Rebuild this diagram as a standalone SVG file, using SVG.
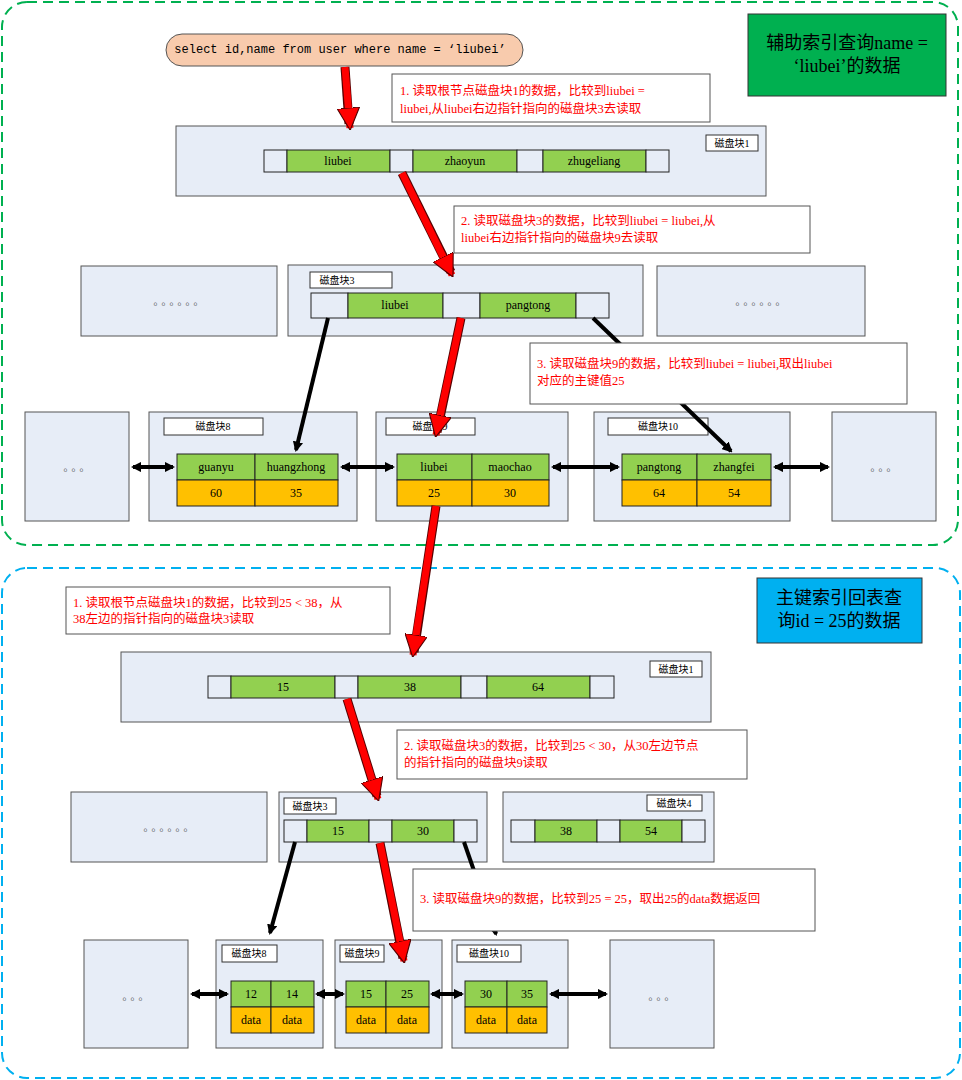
<svg xmlns="http://www.w3.org/2000/svg" width="962" height="1080" viewBox="0 0 962 1080">
<style>
text{font-family:"Liberation Serif","Noto Sans CJK SC",serif;font-size:12px;text-anchor:middle;dominant-baseline:central}
.blk{fill:#e7edf7;stroke:#555;stroke-width:1}
.lbl{fill:#fff;stroke:#333;stroke-width:1}
.e{fill:#e7edf7;stroke:#222;stroke-width:1}
.g{fill:#92d050;stroke:#222;stroke-width:1}
.y{fill:#ffc000;stroke:#222;stroke-width:1}
.note{fill:#fff;stroke:#555;stroke-width:1}
.rt{fill:#ff0000;text-anchor:start;font-size:12.5px}
.sm{font-size:10px}
.dots{font-size:10px;fill:#555;letter-spacing:3px}
.ba{stroke:#000;stroke-width:4;fill:none}
.dbl{stroke:#000;stroke-width:4;marker-start:url(#bh);marker-end:url(#bh)}
.ro{stroke:#500;stroke-width:9;stroke-linecap:butt}
.ri{stroke:#f00;stroke-width:7;stroke-linecap:butt}
</style>
<defs>
<marker id="bh" viewBox="0 0 10 10" refX="8" refY="5" markerWidth="2.6" markerHeight="2.6" orient="auto-start-reverse"><path d="M0,0L10,5L0,10z" fill="#000"/></marker>
<marker id="rh" viewBox="0 0 10 10" refX="9" refY="5" markerWidth="3.2" markerHeight="3.2" orient="auto" markerUnits="strokeWidth"><path d="M0,0L10,5L0,10z" fill="#f00" stroke="#500" stroke-width="0.5"/></marker>
</defs>
<rect width="962" height="1080" fill="#fff"/>
<g id="frames">
<rect x="2" y="2" width="956" height="543" rx="25" fill="none" stroke="#00b050" stroke-width="2" stroke-dasharray="10,6"/>
<rect x="2" y="568" width="958" height="510" rx="25" fill="none" stroke="#00b0f0" stroke-width="2" stroke-dasharray="10,6"/>
</g>
<g id="title1"><rect x="748" y="14" width="198" height="82" fill="#00b050" stroke="#333"/>
<text x="847" y="43" style="font-size:18px">辅助索引查询name =</text><text x="847" y="66" style="font-size:18px">‘liubei’的数据</text></g>
<g id="title2"><rect x="757" y="578" width="165" height="65" fill="#00b0f0" stroke="#333"/>
<text x="839" y="598" style="font-size:18px">主键索引回表查</text><text x="839" y="621" style="font-size:18px">询id = 25的数据</text></g>
<g id="sql"><rect x="166" y="34" width="357" height="32" rx="16" fill="#f8cbad" stroke="#555"/>
<text x="340" y="50" style="font-family:'Liberation Mono','Noto Sans CJK SC',monospace;font-size:12px">select id,name from user where name = ‘liubei’</text></g>

<g id="t-disk1"><rect class="blk" x="176" y="126" width="590" height="70"/><rect class="lbl" x="706" y="135" width="52" height="16"/><text class="sm" x="732" y="143">磁盘块1</text>
<rect class="e" x="264" y="150" width="23" height="22"/><rect class="g" x="287" y="150" width="103" height="22"/><rect class="e" x="390" y="150" width="23" height="22"/><rect class="g" x="413" y="150" width="104" height="22"/><rect class="e" x="517" y="150" width="26" height="22"/><rect class="g" x="543" y="150" width="103" height="22"/><rect class="e" x="646" y="150" width="23" height="22"/>
<text x="338" y="161">liubei</text><text x="465" y="161">zhaoyun</text><text x="594" y="161">zhugeliang</text></g>
<g id="t-l2left"><rect class="blk" x="81" y="266" width="196" height="70"/><text class="dots" x="180" y="301">。。。。。。</text></g>
<g id="t-disk3"><rect class="blk" x="288" y="265" width="355" height="71"/><rect class="lbl" x="310" y="272" width="82" height="16"/><text class="sm" x="337" y="280">磁盘块3</text>
<rect class="e" x="311" y="293" width="37" height="25"/><rect class="g" x="348" y="293" width="95" height="25"/><rect class="e" x="443" y="293" width="37" height="25"/><rect class="g" x="480" y="293" width="96" height="25"/><rect class="e" x="576" y="293" width="33" height="25"/>
<text x="395" y="305">liubei</text><text x="528" y="305">pangtong</text></g>
<g id="t-l2right"><rect class="blk" x="657" y="266" width="208" height="70"/><text class="dots" x="762" y="301">。。。。。。</text></g>
<g id="t-l3left"><rect class="blk" x="25" y="412" width="104" height="109"/><text class="dots" x="78" y="467">。。。</text></g>
<g id="t-disk8"><rect class="blk" x="149" y="412" width="208" height="109"/><rect class="lbl" x="164" y="418" width="99" height="17"/><text class="sm" x="213" y="426">磁盘块8</text>
<rect class="g" x="177" y="454" width="78" height="26"/><rect class="g" x="255" y="454" width="83" height="26"/><rect class="y" x="177" y="480" width="78" height="26"/><rect class="y" x="255" y="480" width="83" height="26"/>
<text x="216" y="467">guanyu</text><text x="296" y="467">huangzhong</text><text x="216" y="493">60</text><text x="296" y="493">35</text></g>
<g id="t-disk9"><rect class="blk" x="376" y="412" width="192" height="109"/><rect class="lbl" x="386" y="418" width="89" height="17"/><text class="sm" x="430" y="426">磁盘块9</text>
<rect class="g" x="397" y="454" width="75" height="26"/><rect class="g" x="472" y="454" width="77" height="26"/><rect class="y" x="397" y="480" width="75" height="26"/><rect class="y" x="472" y="480" width="77" height="26"/>
<text x="434" y="467">liubei</text><text x="510" y="467">maochao</text><text x="434" y="493">25</text><text x="510" y="493">30</text></g>
<g id="t-disk10"><rect class="blk" x="594" y="412" width="196" height="109"/><rect class="lbl" x="608" y="418" width="100" height="17"/><text class="sm" x="658" y="426">磁盘块10</text>
<rect class="g" x="622" y="454" width="75" height="26"/><rect class="g" x="697" y="454" width="74" height="26"/><rect class="y" x="622" y="480" width="75" height="26"/><rect class="y" x="697" y="480" width="74" height="26"/>
<text x="659" y="467">pangtong</text><text x="734" y="467">zhangfei</text><text x="659" y="493">64</text><text x="734" y="493">54</text></g>
<g id="t-l3right"><rect class="blk" x="832" y="412" width="104" height="109"/><text class="dots" x="885" y="467">。。。</text></g>

<g id="b-disk1"><rect class="blk" x="121" y="652" width="590" height="70"/><rect class="lbl" x="650" y="661" width="52" height="16"/><text class="sm" x="676" y="669">磁盘块1</text>
<rect class="e" x="208" y="676" width="23" height="22"/><rect class="g" x="231" y="676" width="104" height="22"/><rect class="e" x="335" y="676" width="23" height="22"/><rect class="g" x="358" y="676" width="103" height="22"/><rect class="e" x="461" y="676" width="26" height="22"/><rect class="g" x="487" y="676" width="103" height="22"/><rect class="e" x="590" y="676" width="24" height="22"/>
<text x="283" y="687">15</text><text x="410" y="687">38</text><text x="538" y="687">64</text></g>
<g id="b-l2left"><rect class="blk" x="71" y="792" width="196" height="70"/><text class="dots" x="170" y="827">。。。。。。</text></g>
<g id="b-disk3"><rect class="blk" x="279" y="792" width="208" height="70"/><rect class="lbl" x="284" y="798" width="52" height="16"/><text class="sm" x="310" y="806">磁盘块3</text>
<rect class="e" x="284" y="820" width="23" height="22"/><rect class="g" x="307" y="820" width="62" height="22"/><rect class="e" x="369" y="820" width="23" height="22"/><rect class="g" x="392" y="820" width="62" height="22"/><rect class="e" x="454" y="820" width="23" height="22"/>
<text x="338" y="831">15</text><text x="423" y="831">30</text></g>
<g id="b-disk4"><rect class="blk" x="503" y="792" width="211" height="70"/><rect class="lbl" x="647" y="795" width="55" height="16"/><text class="sm" x="674" y="803">磁盘块4</text>
<rect class="e" x="511" y="820" width="24" height="22"/><rect class="g" x="535" y="820" width="62" height="22"/><rect class="e" x="597" y="820" width="23" height="22"/><rect class="g" x="620" y="820" width="62" height="22"/><rect class="e" x="682" y="820" width="23" height="22"/>
<text x="566" y="831">38</text><text x="651" y="831">54</text></g>
<g id="b-l3left"><rect class="blk" x="84" y="940" width="104" height="108"/><text class="dots" x="137" y="996">。。。</text></g>
<g id="b-disk8"><rect class="blk" x="216" y="940" width="107" height="108"/><rect class="lbl" x="222" y="945" width="55" height="17"/><text class="sm" x="249" y="953">磁盘块8</text>
<rect class="g" x="231" y="981" width="40" height="26"/><rect class="g" x="271" y="981" width="43" height="26"/><rect class="y" x="231" y="1007" width="40" height="26"/><rect class="y" x="271" y="1007" width="43" height="26"/>
<text x="251" y="994">12</text><text x="292" y="994">14</text><text x="251" y="1020">data</text><text x="292" y="1020">data</text></g>
<g id="b-disk9"><rect class="blk" x="335" y="940" width="107" height="108"/><rect class="lbl" x="340" y="945" width="44" height="17"/><text class="sm" x="362" y="953">磁盘块9</text>
<rect class="g" x="346" y="981" width="40" height="26"/><rect class="g" x="386" y="981" width="43" height="26"/><rect class="y" x="346" y="1007" width="40" height="26"/><rect class="y" x="386" y="1007" width="43" height="26"/>
<text x="366" y="994">15</text><text x="407" y="994">25</text><text x="366" y="1020">data</text><text x="407" y="1020">data</text></g>
<g id="b-disk10"><rect class="blk" x="452" y="940" width="116" height="108"/><rect class="lbl" x="457" y="945" width="64" height="17"/><text class="sm" x="489" y="953">磁盘块10</text>
<rect class="g" x="465" y="981" width="42" height="26"/><rect class="g" x="507" y="981" width="40" height="26"/><rect class="y" x="465" y="1007" width="42" height="26"/><rect class="y" x="507" y="1007" width="40" height="26"/>
<text x="486" y="994">30</text><text x="527" y="994">35</text><text x="486" y="1020">data</text><text x="527" y="1020">data</text></g>
<g id="b-l3right"><rect class="blk" x="610" y="940" width="104" height="108"/><text class="dots" x="663" y="996">。。。</text></g>

<g id="connectors">
<line class="ba" x1="328" y1="318" x2="296" y2="450" marker-end="url(#bh)"/>
<line class="ba" x1="593" y1="318" x2="731" y2="451" marker-end="url(#bh)"/>
<line class="dbl" x1="133" y1="467" x2="173" y2="467"/>
<line class="dbl" x1="342" y1="467" x2="393" y2="467"/>
<line class="dbl" x1="553" y1="467" x2="618" y2="467"/>
<line class="dbl" x1="775" y1="467" x2="828" y2="467"/>
<line class="ba" x1="295" y1="842" x2="270" y2="933" marker-end="url(#bh)"/>
<line class="ba" x1="464" y1="842" x2="496" y2="934" marker-end="url(#bh)"/>
<line class="dbl" x1="192" y1="994" x2="227" y2="994"/>
<line class="dbl" x1="317" y1="994" x2="343" y2="994"/>
<line class="dbl" x1="432" y1="994" x2="462" y2="994"/>
<line class="dbl" x1="551" y1="994" x2="606" y2="994"/>
</g>

<g id="notes">
<rect class="note" x="392" y="74" width="318" height="48"/><text class="rt" x="400" y="91">1. 读取根节点磁盘块1的数据，比较到liubei =</text><text class="rt" x="400" y="109">liubei,从liubei右边指针指向的磁盘块3去读取</text>
<rect class="note" x="454" y="206" width="356" height="47"/><text class="rt" x="461" y="221">2. 读取磁盘块3的数据，比较到liubei = liubei,从</text><text class="rt" x="461" y="238">liubei右边指针指向的磁盘块9去读取</text>
<rect class="note" x="530" y="343" width="377" height="61"/><text class="rt" x="537" y="364">3. 读取磁盘块9的数据，比较到liubei = liubei,取出liubei</text><text class="rt" x="537" y="381">对应的主键值25</text>
<rect class="note" x="66" y="587" width="324" height="47"/><text class="rt" x="73" y="603">1. 读取根节点磁盘块1的数据，比较到25 &lt; 38，从</text><text class="rt" x="73" y="619">38左边的指针指向的磁盘块3读取</text>
<rect class="note" x="397" y="730" width="350" height="49"/><text class="rt" x="404" y="746">2. 读取磁盘块3的数据，比较到25 &lt; 30，从30左边节点</text><text class="rt" x="404" y="763">的指针指向的磁盘块9读取</text>
<rect class="note" x="413" y="869" width="402" height="62"/><text class="rt" x="420" y="899">3. 读取磁盘块9的数据，比较到25 = 25，取出25的data数据返回</text>
</g>

<g id="red-arrows">
<line class="ro" x1="345" y1="67" x2="349" y2="124"/><line class="ri" x1="345" y1="67" x2="350" y2="128" marker-end="url(#rh)"/>
<line class="ro" x1="402" y1="173" x2="451" y2="272"/><line class="ri" x1="402" y1="173" x2="452" y2="275" marker-end="url(#rh)"/>
<line class="ro" x1="461" y1="318" x2="437" y2="432"/><line class="ri" x1="461" y1="318" x2="436" y2="435" marker-end="url(#rh)"/>
<line class="ro" x1="436" y1="506" x2="414" y2="652"/><line class="ri" x1="436" y1="506" x2="413" y2="655" marker-end="url(#rh)"/>
<line class="ro" x1="347" y1="699" x2="377" y2="796"/><line class="ri" x1="347" y1="699" x2="378" y2="799" marker-end="url(#rh)"/>
<line class="ro" x1="380" y1="843" x2="403" y2="958"/><line class="ri" x1="380" y1="843" x2="404" y2="961" marker-end="url(#rh)"/>
</g>
</svg>
